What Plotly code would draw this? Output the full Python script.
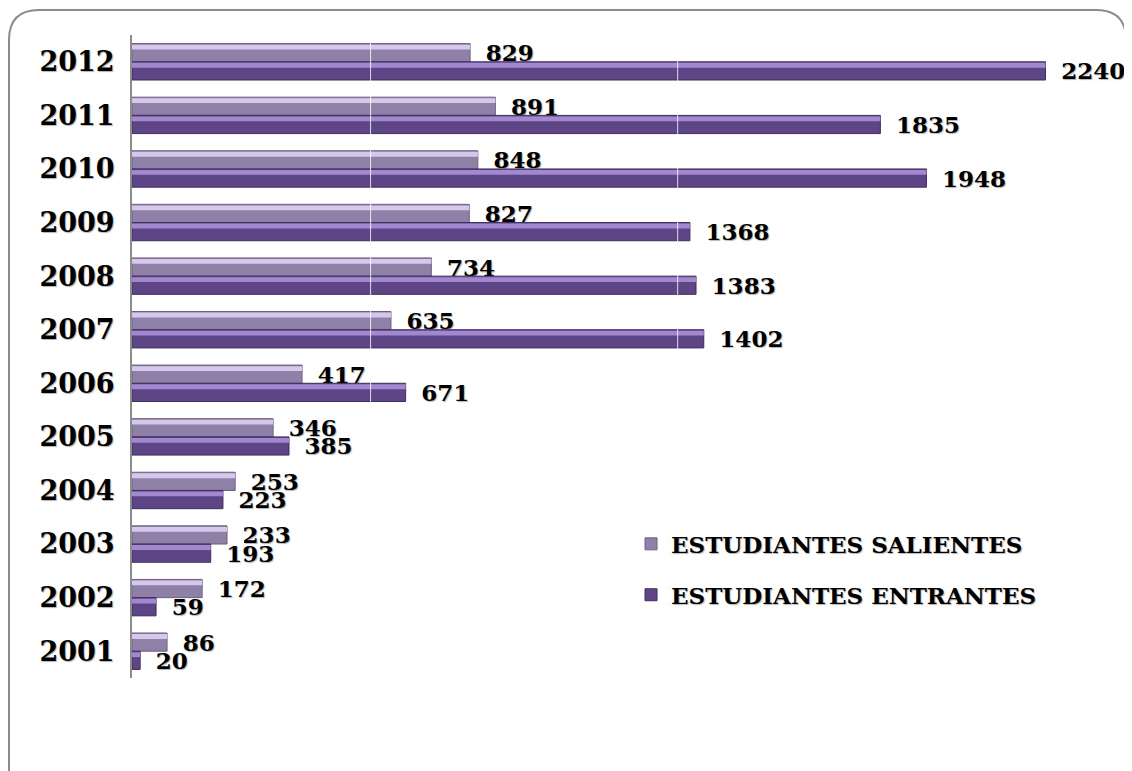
import plotly.graph_objects as go

years = ["2001", "2002", "2003", "2004", "2005", "2006",
         "2007", "2008", "2009", "2010", "2011", "2012"]
salientes = [86, 172, 233, 253, 346, 417, 635, 734, 827, 848, 891, 829]
entrantes = [20, 59, 193, 223, 385, 671, 1402, 1383, 1368, 1948, 1835, 2240]

# page body adds an 8px margin, so the figure is drawn 8px smaller
OFF = 8
W, H = 1132 - OFF, 771 - OFF
ML, MR, MT, MB = 132 - OFF, 62, 35 - OFF, 93
X_MAX = 2300
FONT = "DejaVu Serif"
SHADOW = "1px 1px 1px rgba(0,0,0,0.3)"
label_font = dict(family=FONT, size=23, color="black", weight="bold", shadow=SHADOW)
BW = 0.34   # thickness of each bar, in category units
HL = 0.09   # thickness of the light bevel strip on top of each bar

fig = go.Figure()

series = [
    ("ESTUDIANTES SALIENTES", salientes, 0.0, "#8f80a8", "#6d5f82", "#d6c8ea", 1, "a"),
    ("ESTUDIANTES ENTRANTES", entrantes, -BW, "#5e4586", "#3f2d5e", "#a288cf", 2, "b"),
]
for name, vals, off, col, edge, light, rank, grp in series:
    fig.add_trace(go.Bar(
        y=years, x=vals, orientation="h", name=name,
        legendrank=rank, legendgroup=grp,
        offset=off, width=BW,
        marker=dict(color=col, line=dict(color=edge, width=1)),
        text=vals, texttemplate="\u00a0\u2009%{x}", textposition="outside",
        cliponaxis=False, constraintext="none", textfont=label_font,
    ))
    # bevel highlight along the top edge of each bar
    fig.add_trace(go.Bar(
        y=years, x=vals, orientation="h", showlegend=False, hoverinfo="skip",
        legendgroup=grp,
        offset=off + BW - HL - 0.02, width=HL,
        marker=dict(color=light, line=dict(width=0)),
    ))

# faint white gridlines drawn over the bars
pw = W - ML - MR
for gx in [585, 1338]:
    fig.add_shape(type="line", xref="x", yref="paper", x0=gx, x1=gx, y0=0, y1=1,
                  line=dict(color="rgba(255,255,255,0.8)", width=1), layer="above")

# rounded outer frame, in paper coords computed from pixel positions
ph = H - MT - MB


def px_x(v):
    return (v - OFF - ML) / pw


def px_y(v):
    return (H - MB - (v - OFF)) / ph


r = 30
x0, x1, y0, y1 = 9, 1126, 10, 800
path = (f"M {px_x(x0 + r)} {px_y(y0)} L {px_x(x1 - r)} {px_y(y0)} "
        f"Q {px_x(x1)} {px_y(y0)} {px_x(x1)} {px_y(y0 + r)} "
        f"L {px_x(x1)} {px_y(y1 - r)} Q {px_x(x1)} {px_y(y1)} {px_x(x1 - r)} {px_y(y1)} "
        f"L {px_x(x0 + r)} {px_y(y1)} Q {px_x(x0)} {px_y(y1)} {px_x(x0)} {px_y(y1 - r)} "
        f"L {px_x(x0)} {px_y(y0 + r)} Q {px_x(x0)} {px_y(y0)} {px_x(x0 + r)} {px_y(y0)} Z")
fig.add_shape(type="path", xref="paper", yref="paper", path=path,
              line=dict(color="#8c8c8c", width=2), layer="below")

fig.update_layout(
    width=W, height=H,
    margin=dict(l=ML, r=MR, t=MT, b=MB),
    barmode="overlay",
    plot_bgcolor="white", paper_bgcolor="white",
    font=dict(family=FONT, color="black"),
    xaxis=dict(range=[0, X_MAX], showgrid=False, showticklabels=False,
               zeroline=False, showline=False),
    yaxis=dict(type="category", categoryorder="array", categoryarray=years,
               range=[-0.5, 11.5],
               showgrid=False, showline=True, linecolor="#8c8c8c", linewidth=2,
               ticks="", ticklabelstandoff=10,
               tickfont=dict(family=FONT, size=27, color="black", weight="bold",
                             shadow=SHADOW)),
    legend=dict(x=0.532, y=0.242, xanchor="left", yanchor="top",
                traceorder="grouped", tracegroupgap=18,
                bgcolor="rgba(0,0,0,0)",
                font=dict(family=FONT, size=23, color="black", weight="bold",
                          shadow=SHADOW),
                itemwidth=30),
    showlegend=True,
)

fig.write_html("out.html")
